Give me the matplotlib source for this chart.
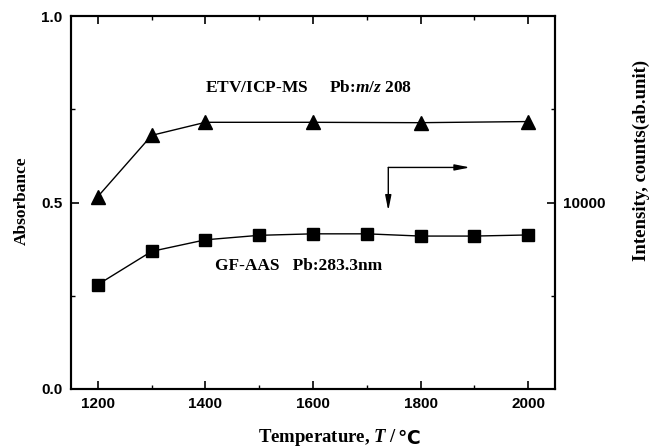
import matplotlib
matplotlib.use("Agg")
import matplotlib.pyplot as plt
from matplotlib.ticker import MultipleLocator, FixedLocator

temps_ms = [1200, 1300, 1400, 1600, 1800, 2000]
intensity_ms = [10320, 13600, 14300, 14300, 14280, 14340]  # right axis (counts)
temps_aas = [1200, 1300, 1400, 1500, 1600, 1700, 1800, 1900, 2000]
absorb_aas = [0.280, 0.369, 0.400, 0.412, 0.416, 0.416, 0.410, 0.410, 0.413]

xticks = [1200, 1400, 1600, 1800, 2000]
yticks = [0.0, 0.5, 1.0]
rticks = [10000]

plt.rcParams['mathtext.fontset'] = 'custom'
plt.rcParams['mathtext.it'] = 'Liberation Serif:italic:bold'
plt.rcParams['mathtext.rm'] = 'Liberation Serif:bold'

serif = ['Liberation Serif', 'DejaVu Serif']
sans = ['Liberation Sans', 'DejaVu Sans']

fig = plt.figure(figsize=(6.62, 4.47), dpi=100)
ax = fig.add_axes([71/662, 1-389/447, (555-71)/662, (389-16)/447])
ax2 = ax.twinx()

ax.set_xlim(1150, 2050)
ax.set_ylim(0, 1.0)
ax2.set_ylim(0, 20000)

ax.plot(temps_aas, absorb_aas, color='black', lw=1.0, marker='s', ms=8)
ax2.plot(temps_ms, intensity_ms, color='black', lw=1.0, marker='^', ms=10)

ax.set_xticks(xticks)
ax.xaxis.set_minor_locator(MultipleLocator(100))
ax.set_yticks(yticks)
ax.yaxis.set_minor_locator(FixedLocator([0.25, 0.75]))
ax2.set_yticks(rticks)
ax2.yaxis.set_minor_locator(FixedLocator([5000, 15000]))

for a in (ax, ax2):
    for s in a.spines.values():
        s.set_linewidth(1.5)
ax.tick_params(axis='both', which='major', direction='in', length=6, width=1.2,
               top=True, labelsize=11, pad=6)
ax.tick_params(axis='both', which='minor', direction='in', length=3, width=1.0, top=True)
ax.tick_params(axis='y', which='both', right=False)
ax2.tick_params(axis='y', which='major', direction='in', length=6, width=1.2, labelsize=11, pad=6)
ax2.tick_params(axis='y', which='minor', direction='in', length=3, width=1.0)

for lab in ax.get_xticklabels() + ax.get_yticklabels() + ax2.get_yticklabels():
    lab.set_family(sans)
    lab.set_fontweight('bold')

fig.text(22/662, 1-201/447, 'Absorbance', family=serif, fontweight='bold',
         fontsize=12.5, rotation=90, ha='center', va='center')
fig.text(641/662, 1-160/447, 'Intensity, counts(ab.unit)', family=serif, fontweight='bold',
         fontsize=13.5, rotation=90, ha='center', va='center')

xl = fig.text(258/662, 1-437/447, r'Temperature, $T$ / ', family=serif, fontweight='bold',
              fontsize=13.5, ha='left', va='center')
ax.annotate('℃', xy=(1.0, 0.45), xycoords=xl, ha='left', va='center',
            family=['DejaVu Sans'], fontweight='bold', fontsize=13.5)

ax.text(1399, 0.806, r'ETV/ICP-MS     Pb:$m/z$ 208', family=serif, fontweight='bold',
        fontsize=12.5, ha='left', va='center')
ax.text(1418, 0.331, 'GF-AAS   Pb:283.3nm', family=serif, fontweight='bold',
        fontsize=12.5, ha='left', va='center')

corner = (1740, 0.594)
ax.annotate('', xy=(1892, 0.594), xytext=corner,
            arrowprops=dict(arrowstyle='-|>,head_length=0.9,head_width=0.18', color='black', lw=1.0,
                            shrinkA=0, shrinkB=0))
ax.annotate('', xy=(1740, 0.478), xytext=corner,
            arrowprops=dict(arrowstyle='-|>,head_length=0.9,head_width=0.18', color='black', lw=1.0,
                            shrinkA=0, shrinkB=0))

fig.savefig('out.png', dpi=100)
